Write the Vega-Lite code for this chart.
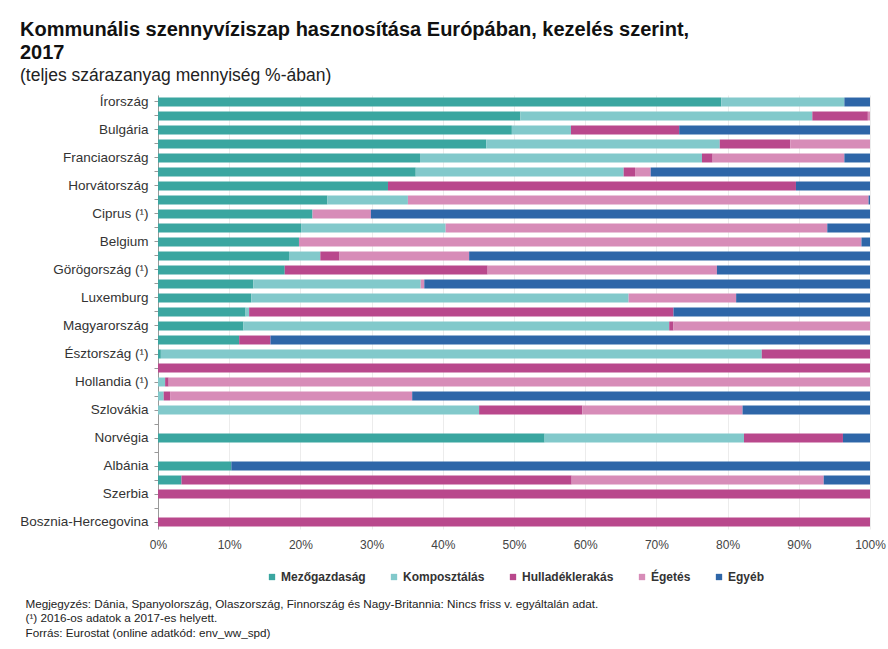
{
  "$schema": "https://vega.github.io/schema/vega-lite/v6.json",
  "autosize": "none",
  "width": 712,
  "height": 434,
  "padding": {"left": 158, "top": 95, "right": 18, "bottom": 120},
  "background": "white",
  "config": {"font": "Liberation Sans", "view": {"stroke": null}},
  "title": {
    "text": ["Kommunális szennyvíziszap hasznosítása Európában, kezelés szerint,", "2017"],
    "subtitle": "(teljes szárazanyag mennyiség %-ában)",
    "anchor": "start",
    "frame": "group",
    "dx": -138,
    "fontSize": 20,
    "fontWeight": "bold",
    "lineHeight": 23,
    "color": "#111",
    "subtitleFontSize": 17.5,
    "subtitleColor": "#222",
    "subtitlePadding": 4,
    "offset": 10
  },
  "data": {
    "values": [
      {"orszag": "Írország", "kezeles": "Mezőgazdaság", "ertek": 79.1},
      {"orszag": "Írország", "kezeles": "Komposztálás", "ertek": 17.3},
      {"orszag": "Írország", "kezeles": "Egyéb", "ertek": 3.6},
      {"orszag": "Litvánia", "kezeles": "Mezőgazdaság", "ertek": 50.9},
      {"orszag": "Litvánia", "kezeles": "Komposztálás", "ertek": 41.0},
      {"orszag": "Litvánia", "kezeles": "Hulladéklerakás", "ertek": 7.8},
      {"orszag": "Litvánia", "kezeles": "Égetés", "ertek": 0.3},
      {"orszag": "Bulgária", "kezeles": "Mezőgazdaság", "ertek": 49.7},
      {"orszag": "Bulgária", "kezeles": "Komposztálás", "ertek": 8.3},
      {"orszag": "Bulgária", "kezeles": "Hulladéklerakás", "ertek": 15.2},
      {"orszag": "Bulgária", "kezeles": "Egyéb", "ertek": 26.8},
      {"orszag": "Portugália", "kezeles": "Mezőgazdaság", "ertek": 46.1},
      {"orszag": "Portugália", "kezeles": "Komposztálás", "ertek": 32.8},
      {"orszag": "Portugália", "kezeles": "Hulladéklerakás", "ertek": 9.9},
      {"orszag": "Portugália", "kezeles": "Égetés", "ertek": 11.2},
      {"orszag": "Franciaország", "kezeles": "Mezőgazdaság", "ertek": 36.8},
      {"orszag": "Franciaország", "kezeles": "Komposztálás", "ertek": 39.6},
      {"orszag": "Franciaország", "kezeles": "Hulladéklerakás", "ertek": 1.5},
      {"orszag": "Franciaország", "kezeles": "Égetés", "ertek": 18.5},
      {"orszag": "Franciaország", "kezeles": "Egyéb", "ertek": 3.6},
      {"orszag": "Lettország", "kezeles": "Mezőgazdaság", "ertek": 36.2},
      {"orszag": "Lettország", "kezeles": "Komposztálás", "ertek": 29.2},
      {"orszag": "Lettország", "kezeles": "Hulladéklerakás", "ertek": 1.6},
      {"orszag": "Lettország", "kezeles": "Égetés", "ertek": 2.2},
      {"orszag": "Lettország", "kezeles": "Egyéb", "ertek": 30.8},
      {"orszag": "Horvátország", "kezeles": "Mezőgazdaság", "ertek": 32.3},
      {"orszag": "Horvátország", "kezeles": "Hulladéklerakás", "ertek": 57.3},
      {"orszag": "Horvátország", "kezeles": "Egyéb", "ertek": 10.4},
      {"orszag": "Németország", "kezeles": "Mezőgazdaság", "ertek": 23.8},
      {"orszag": "Németország", "kezeles": "Komposztálás", "ertek": 11.3},
      {"orszag": "Németország", "kezeles": "Égetés", "ertek": 64.7},
      {"orszag": "Németország", "kezeles": "Egyéb", "ertek": 0.2},
      {"orszag": "Ciprus (¹)", "kezeles": "Mezőgazdaság", "ertek": 21.7},
      {"orszag": "Ciprus (¹)", "kezeles": "Égetés", "ertek": 8.2},
      {"orszag": "Ciprus (¹)", "kezeles": "Egyéb", "ertek": 70.1},
      {"orszag": "Ausztria", "kezeles": "Mezőgazdaság", "ertek": 20.1},
      {"orszag": "Ausztria", "kezeles": "Komposztálás", "ertek": 20.3},
      {"orszag": "Ausztria", "kezeles": "Égetés", "ertek": 53.6},
      {"orszag": "Ausztria", "kezeles": "Egyéb", "ertek": 6.0},
      {"orszag": "Belgium", "kezeles": "Mezőgazdaság", "ertek": 19.8},
      {"orszag": "Belgium", "kezeles": "Égetés", "ertek": 79.0},
      {"orszag": "Belgium", "kezeles": "Egyéb", "ertek": 1.2},
      {"orszag": "Lengyelország", "kezeles": "Mezőgazdaság", "ertek": 18.4},
      {"orszag": "Lengyelország", "kezeles": "Komposztálás", "ertek": 4.4},
      {"orszag": "Lengyelország", "kezeles": "Hulladéklerakás", "ertek": 2.7},
      {"orszag": "Lengyelország", "kezeles": "Égetés", "ertek": 18.2},
      {"orszag": "Lengyelország", "kezeles": "Egyéb", "ertek": 56.3},
      {"orszag": "Görögország (¹)", "kezeles": "Mezőgazdaság", "ertek": 17.8},
      {"orszag": "Görögország (¹)", "kezeles": "Hulladéklerakás", "ertek": 28.5},
      {"orszag": "Görögország (¹)", "kezeles": "Égetés", "ertek": 32.2},
      {"orszag": "Görögország (¹)", "kezeles": "Egyéb", "ertek": 21.5},
      {"orszag": "Csehország", "kezeles": "Mezőgazdaság", "ertek": 13.4},
      {"orszag": "Csehország", "kezeles": "Komposztálás", "ertek": 23.5},
      {"orszag": "Csehország", "kezeles": "Égetés", "ertek": 0.5},
      {"orszag": "Csehország", "kezeles": "Egyéb", "ertek": 62.6},
      {"orszag": "Luxemburg", "kezeles": "Mezőgazdaság", "ertek": 13.1},
      {"orszag": "Luxemburg", "kezeles": "Komposztálás", "ertek": 53.0},
      {"orszag": "Luxemburg", "kezeles": "Égetés", "ertek": 15.1},
      {"orszag": "Luxemburg", "kezeles": "Egyéb", "ertek": 18.8},
      {"orszag": "Románia", "kezeles": "Mezőgazdaság", "ertek": 12.3},
      {"orszag": "Románia", "kezeles": "Komposztálás", "ertek": 0.5},
      {"orszag": "Románia", "kezeles": "Hulladéklerakás", "ertek": 59.6},
      {"orszag": "Románia", "kezeles": "Egyéb", "ertek": 27.6},
      {"orszag": "Magyarország", "kezeles": "Mezőgazdaság", "ertek": 12.0},
      {"orszag": "Magyarország", "kezeles": "Komposztálás", "ertek": 59.8},
      {"orszag": "Magyarország", "kezeles": "Hulladéklerakás", "ertek": 0.6},
      {"orszag": "Magyarország", "kezeles": "Égetés", "ertek": 27.6},
      {"orszag": "Svédország", "kezeles": "Mezőgazdaság", "ertek": 11.4},
      {"orszag": "Svédország", "kezeles": "Hulladéklerakás", "ertek": 4.4},
      {"orszag": "Svédország", "kezeles": "Egyéb", "ertek": 84.2},
      {"orszag": "Észtország (¹)", "kezeles": "Mezőgazdaság", "ertek": 0.4},
      {"orszag": "Észtország (¹)", "kezeles": "Komposztálás", "ertek": 84.4},
      {"orszag": "Észtország (¹)", "kezeles": "Hulladéklerakás", "ertek": 15.2},
      {"orszag": "Málta", "kezeles": "Hulladéklerakás", "ertek": 100},
      {"orszag": "Hollandia (¹)", "kezeles": "Komposztálás", "ertek": 1.0},
      {"orszag": "Hollandia (¹)", "kezeles": "Hulladéklerakás", "ertek": 0.5},
      {"orszag": "Hollandia (¹)", "kezeles": "Égetés", "ertek": 98.5},
      {"orszag": "Szlovénia", "kezeles": "Komposztálás", "ertek": 0.8},
      {"orszag": "Szlovénia", "kezeles": "Hulladéklerakás", "ertek": 0.9},
      {"orszag": "Szlovénia", "kezeles": "Égetés", "ertek": 34.0},
      {"orszag": "Szlovénia", "kezeles": "Egyéb", "ertek": 64.3},
      {"orszag": "Szlovákia", "kezeles": "Komposztálás", "ertek": 45.1},
      {"orszag": "Szlovákia", "kezeles": "Hulladéklerakás", "ertek": 14.5},
      {"orszag": "Szlovákia", "kezeles": "Égetés", "ertek": 22.5},
      {"orszag": "Szlovákia", "kezeles": "Egyéb", "ertek": 17.9},
      {"orszag": "Norvégia", "kezeles": "Mezőgazdaság", "ertek": 54.3},
      {"orszag": "Norvégia", "kezeles": "Komposztálás", "ertek": 28.0},
      {"orszag": "Norvégia", "kezeles": "Hulladéklerakás", "ertek": 13.9},
      {"orszag": "Norvégia", "kezeles": "Egyéb", "ertek": 3.8},
      {"orszag": "Albánia", "kezeles": "Mezőgazdaság", "ertek": 10.3},
      {"orszag": "Albánia", "kezeles": "Egyéb", "ertek": 89.7},
      {"orszag": "Törökország", "kezeles": "Mezőgazdaság", "ertek": 3.3},
      {"orszag": "Törökország", "kezeles": "Hulladéklerakás", "ertek": 54.8},
      {"orszag": "Törökország", "kezeles": "Égetés", "ertek": 35.4},
      {"orszag": "Törökország", "kezeles": "Egyéb", "ertek": 6.5},
      {"orszag": "Szerbia", "kezeles": "Hulladéklerakás", "ertek": 100},
      {"orszag": "Bosznia-Hercegovina", "kezeles": "Hulladéklerakás", "ertek": 100}
    ]
  },
  "transform": [
    {"calculate": "indexof(['Mezőgazdaság','Komposztálás','Hulladéklerakás','Égetés','Egyéb'], datum.kezeles)", "as": "sorrend"}
  ],
  "mark": {"type": "bar"},
  "encoding": {
    "y": {
      "field": "orszag",
      "type": "nominal",
      "scale": {
        "domain": ["Írország", "Litvánia", "Bulgária", "Portugália", "Franciaország", "Lettország", "Horvátország", "Németország", "Ciprus (¹)", "Ausztria", "Belgium", "Lengyelország", "Görögország (¹)", "Csehország", "Luxemburg", "Románia", "Magyarország", "Svédország", "Észtország (¹)", "Málta", "Hollandia (¹)", "Szlovénia", "Szlovákia", "Izland", "Norvégia", "Svájc", "Albánia", "Törökország", "Szerbia", "Koszovó", "Bosznia-Hercegovina"],
        "paddingInner": 0.36,
        "paddingOuter": 0.18
      },
      "axis": {
        "title": null,
        "labelExpr": "indexof(['Írország','Bulgária','Franciaország','Horvátország','Ciprus (¹)','Belgium','Görögország (¹)','Luxemburg','Magyarország','Észtország (¹)','Hollandia (¹)','Szlovákia','Norvégia','Albánia','Szerbia','Bosznia-Hercegovina'], datum.value) >= 0 ? datum.value : ''",
        "labelFontSize": 13.5,
        "labelColor": "#333",
        "labelPadding": 6,
        "tickSize": 4,
        "tickColor": "#999",
        "domainColor": "#999",
        "grid": false
      }
    },
    "x": {
      "field": "ertek",
      "type": "quantitative",
      "stack": "zero",
      "scale": {"domain": [0, 100], "nice": false},
      "axis": {
        "values": [0, 10, 20, 30, 40, 50, 60, 70, 80, 90, 100],
        "labelExpr": "datum.value + '%'",
        "domain": false,
        "ticks": false,
        "grid": true,
        "gridColor": "#ececec",
        "labelFontSize": 12,
        "labelColor": "#444",
        "labelPadding": 10,
        "labelFlush": false,
        "title": ["Megjegyzés: Dánia, Spanyolország, Olaszország, Finnország és Nagy-Britannia: Nincs friss v. egyáltalán adat.", "(¹) 2016-os adatok a 2017-es helyett.", "Forrás: Eurostat (online adatkód: env_ww_spd)"],
        "titleX": -133,
        "titleY": 69,
        "titleAlign": "left",
        "titleAnchor": "start",
        "titleBaseline": "top",
        "titleFontWeight": "normal",
        "titleFontSize": 11.7,
        "titleLineHeight": 14.5,
        "titleColor": "#222"
      }
    },
    "color": {
      "field": "kezeles",
      "type": "nominal",
      "sort": ["Mezőgazdaság", "Komposztálás", "Hulladéklerakás", "Égetés", "Egyéb"],
      "scale": {
        "domain": ["Mezőgazdaság", "Komposztálás", "Hulladéklerakás", "Égetés", "Egyéb"],
        "range": ["#3aa6a0", "#82c9cb", "#b9488c", "#d78cb8", "#2e66a8"]
      },
      "legend": {
        "title": null,
        "orient": "none",
        "legendX": 108,
        "legendY": 476,
        "direction": "horizontal",
        "symbolType": "square",
        "symbolSize": 40,
        "labelFontSize": 12,
        "labelFontWeight": "bold",
        "labelColor": "#333",
        "labelOffset": 3,
        "columnPadding": 22,
        "padding": 0
      }
    },
    "order": {"field": "sorrend", "type": "quantitative", "sort": "ascending"}
  }
}
